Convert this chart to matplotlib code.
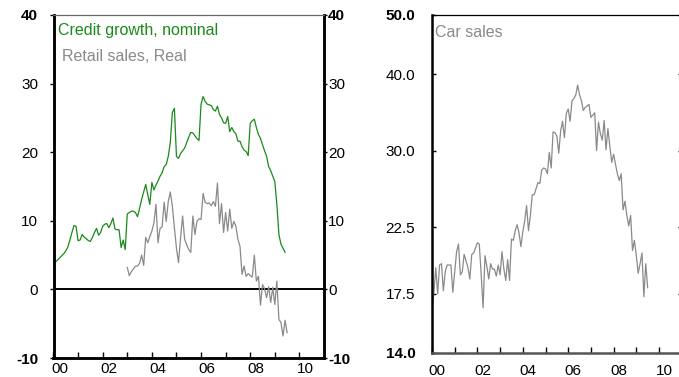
import numpy as np
import matplotlib
matplotlib.use("Agg")
import matplotlib.pyplot as plt
from matplotlib.transforms import ScaledTranslation
from matplotlib.ticker import NullLocator

plt.rcParams['font.family'] = ['Liberation Sans', 'DejaVu Sans']

# ---- data (monthly series, % y/y) ----
credit_start = 2000.0
credit_growth = [
    3.6, 4.0, 4.3, 4.6, 4.9, 5.2, 5.6, 6.2, 7.2, 8.3, 9.3, 9.2,        # 2000
    7.1, 7.2, 8.0, 7.6, 7.4, 7.1, 7.0, 7.6, 8.3, 8.9, 7.9, 8.3,        # 2001
    9.2, 9.5, 9.6, 9.0, 9.6, 10.4, 8.8, 8.7, 8.7, 6.1, 7.2, 5.8,       # 2002
    11.0, 11.2, 11.4, 11.4, 11.2, 10.6, 11.8, 13.1, 14.2, 15.3, 13.8, 12.4,  # 2003
    15.6, 14.5, 15.2, 15.8, 16.5, 17.0, 17.9, 18.2, 19.4, 21.4, 25.8, 26.4,  # 2004
    19.4, 19.1, 19.8, 20.2, 20.6, 21.4, 22.2, 22.9, 22.8, 22.4, 22.0, 21.7,  # 2005
    27.0, 28.1, 27.4, 27.0, 26.9, 26.8, 26.2, 26.0, 26.7, 25.5, 25.0, 24.3,  # 2006
    24.2, 25.2, 23.0, 23.6, 23.0, 22.7, 21.6, 21.6, 20.8, 20.3, 20.1, 19.5,  # 2007
    24.2, 24.6, 24.8, 23.6, 22.6, 22.0, 21.1, 20.2, 19.4, 17.9, 17.3, 16.5,  # 2008
    15.7, 12.4, 8.0, 6.6, 6.0, 5.4,                                           # 2009
]

retail_start = 2003.0
retail_sales = [
    3.2, 2.0, 2.6, 3.0, 3.4, 3.4, 3.8, 5.0, 3.5, 7.6, 6.8, 7.7,        # 2003
    8.5, 9.7, 12.4, 6.8, 8.9, 9.1, 12.7, 9.9, 12.8, 14.2, 12.1, 9.0,   # 2004
    6.0, 3.9, 7.5, 10.7, 7.3, 6.5, 5.8, 5.4, 10.7, 8.0, 9.9, 10.3,     # 2005
    10.2, 14.0, 12.7, 12.5, 12.6, 12.2, 12.8, 12.1, 15.5, 9.6, 12.5, 8.3,  # 2006
    11.2, 8.5, 11.7, 8.9, 9.9, 9.2, 7.3, 6.3, 2.2, 3.4, 1.9, 2.3,      # 2007
    2.0, 1.8, 5.0, 1.2, 1.9, -2.3, 0.7, 0.1, -1.2, 0.4, -1.9, 0.3,     # 2008
    -2.2, 1.2, -4.4, -4.8, -6.8, -4.5, -6.3,                           # 2009
]

car_start = 2000.0
car_sales = [
    16.4, 17.6, 19.3, 17.5, 19.5, 19.6, 17.7, 19.0, 19.5, 19.5, 19.5, 17.6,  # 2000
    19.0, 20.5, 21.1, 18.8, 19.0, 20.3, 19.8, 19.3, 18.5, 20.3, 20.4, 20.8,  # 2001
    21.2, 21.1, 18.8, 16.6, 20.2, 19.4, 18.5, 19.6, 19.2, 19.2, 18.7, 19.5,  # 2002
    18.8, 20.5, 19.2, 18.4, 19.9, 18.4, 21.5, 21.4, 22.2, 22.7, 22.0, 20.9,  # 2003
    22.1, 23.0, 24.4, 22.2, 23.5, 25.4, 25.4, 26.0, 26.6, 26.5, 27.9, 28.1,  # 2004
    28.0, 27.5, 29.8, 28.1, 32.2, 32.1, 31.7, 29.7, 32.3, 33.5, 31.5, 34.5,  # 2005
    35.1, 33.5, 36.2, 36.5, 37.0, 38.4, 37.0, 36.2, 34.9, 35.3, 35.5, 35.7,  # 2006
    34.0, 34.3, 34.6, 30.0, 33.4, 32.0, 31.2, 33.6, 30.1, 32.6, 30.5, 28.7,  # 2007
    29.6, 28.5, 27.5, 26.8, 27.5, 24.0, 24.8, 23.5, 22.6, 23.5, 20.6, 21.4,  # 2008
    20.2, 18.9, 19.6, 20.4, 17.3, 19.6, 17.9,                                 # 2009
]

years = list(range(2000, 2011))
year_labels = ['00', '', '02', '', '04', '', '06', '', '08', '', '10']
left_yticks = [-10, 0, 10, 20, 30, 40]
left_ylabels = ['-10', '0', '10', '20', '30', '40']
car_yticks = [14.0, 17.5, 22.5, 30.0, 40.0, 50.0]
car_ylabels = ['14.0', '17.5', '22.5', '30.0', '40.0', '50.0']

GREEN = '#1a8a1a'
GREY = '#8a8a8a'
TICK_FS = 11
TEXT_FS = 11.5

W, H = 679, 377
fig = plt.figure(figsize=(W / 100, H / 100), dpi=100)


def px_axes(left, right, top, bottom):
    return [left / W, 1 - bottom / H, (right - left) / W, (bottom - top) / H]


def monthly(start, values):
    return start + np.arange(len(values)) / 12.0


def shift_xlabels(ax, dx_px):
    off = ScaledTranslation(dx_px / 100, 0, fig.dpi_scale_trans)
    for lab in ax.get_xticklabels():
        lab.set_transform(lab.get_transform() + off)


def bold_ends(labels):
    labels[0].set_fontweight('bold')
    labels[-1].set_fontweight('bold')


# ---- left panel: credit growth and retail sales ----
ax1 = fig.add_axes(px_axes(53.5, 324, 15, 358))
ax1.plot(monthly(credit_start, credit_growth), credit_growth, color=GREEN, lw=0.9)
ax1.plot(monthly(retail_start, retail_sales), retail_sales, color=GREY, lw=0.9)
ax1.axhline(0, color='black', lw=1.4, zorder=1)
ax1.set_xlim(2000, 2011)
ax1.set_ylim(-10, 40)
ax1.set_xticks(years)
ax1.set_xticklabels(year_labels, fontsize=TICK_FS)
ax1.set_yticks(left_yticks)
ax1.set_yticklabels(left_ylabels, fontsize=TICK_FS)
ax1.tick_params(axis='x', direction='in', length=4, width=1, pad=3)
ax1.tick_params(axis='y', direction='out', length=3, width=1, pad=8)
bold_ends(ax1.get_yticklabels())
shift_xlabels(ax1, 6)

ax1r = ax1.twinx()
ax1r.set_ylim(-10, 40)
ax1r.set_yticks(left_yticks)
ax1r.set_yticklabels(left_ylabels, fontsize=TICK_FS)
ax1r.tick_params(axis='y', direction='out', length=2, width=1, pad=1)
bold_ends(ax1r.get_yticklabels())

for a in (ax1, ax1r):
    for side in ('left', 'right', 'bottom'):
        a.spines[side].set_linewidth(1.8)
        a.spines[side].set_color('black')
    a.spines['top'].set_linewidth(0.8)
    a.spines['top'].set_color('#666666')

fig.text(58 / W, 1 - 35 / H, 'Credit growth, nominal', color=GREEN,
         fontsize=TEXT_FS, va='baseline', ha='left')
fig.text(62 / W, 1 - 61 / H, 'Retail sales, Real', color=GREY,
         fontsize=TEXT_FS, va='baseline', ha='left')

# ---- right panel: car sales (log scale) ----
ax2 = fig.add_axes(px_axes(432, 681.7, 15, 353))
ax2.plot(monthly(car_start, car_sales), car_sales, color=GREY, lw=0.9)
ax2.set_yscale('log')
ax2.set_xlim(2000, 2011)
ax2.set_ylim(14, 50)
ax2.set_yticks(car_yticks)
ax2.set_yticklabels(car_ylabels, fontsize=TICK_FS)
ax2.yaxis.set_minor_locator(NullLocator())
ax2.set_xticks(years)
ax2.set_xticklabels(year_labels, fontsize=TICK_FS)
ax2.tick_params(axis='x', direction='in', length=4, width=1, pad=8)
ax2.tick_params(axis='y', which='both', direction='in', length=3, width=1,
                pad=12, left=True, right=True)
bold_ends(ax2.get_yticklabels())
shift_xlabels(ax2, 5)

ax2.spines['left'].set_linewidth(1.8)
ax2.spines['right'].set_linewidth(1.8)
ax2.spines['top'].set_linewidth(0.9)
ax2.spines['bottom'].set_linewidth(1.8)
ax2.spines['bottom'].set_color('#555555')

fig.text(435 / W, 1 - 37 / H, 'Car sales', color=GREY,
         fontsize=TEXT_FS, va='baseline', ha='left')

fig.savefig('out.png', dpi=100)
